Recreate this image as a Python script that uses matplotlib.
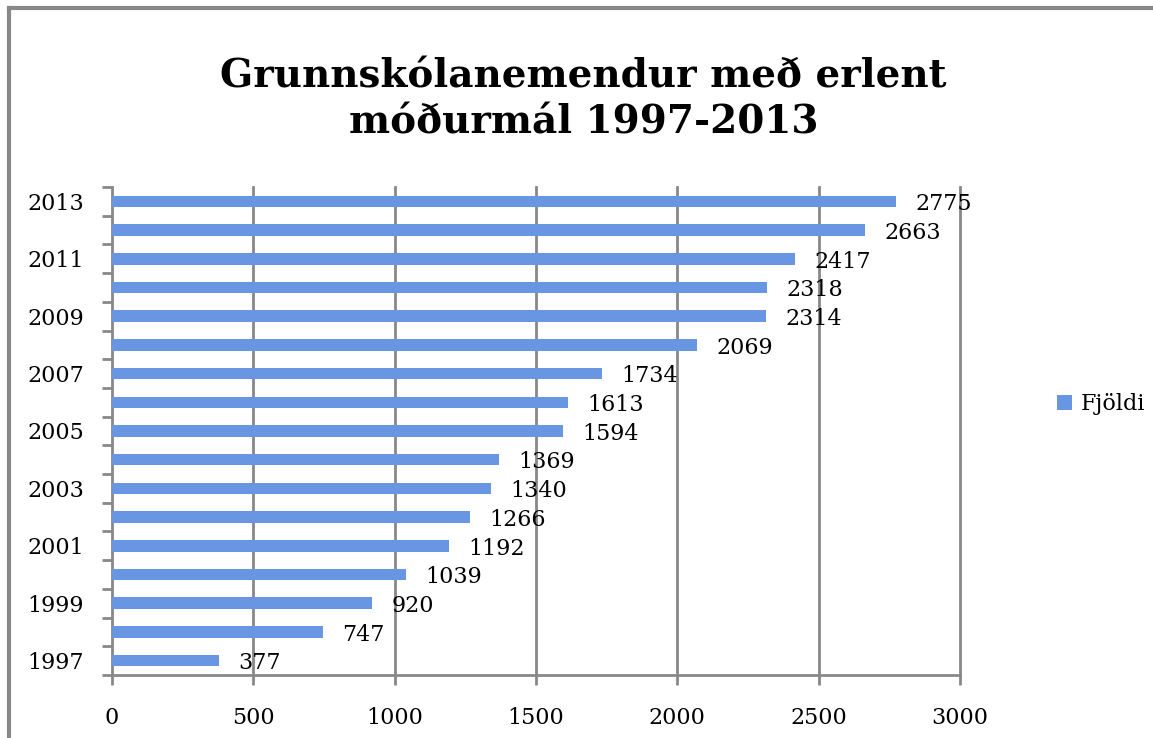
import numpy as np
import matplotlib.pyplot as plt
from matplotlib.lines import Line2D

years = list(range(1997, 2014))
counts = [377, 747, 920, 1039, 1192, 1266, 1340, 1369, 1594, 1613,
          1734, 2069, 2314, 2318, 2417, 2663, 2775]
x_ticks = [0, 500, 1000, 1500, 2000, 2500, 3000]
title = 'Grunnskólanemendur með erlent\nmóðurmál 1997-2013'
series_name = 'Fjöldi'

plt.rcParams['font.family'] = ['DejaVu Serif']

fig = plt.figure(figsize=(11.53, 7.38), dpi=100)
ax = fig.add_axes([0.0971, 0.0854, 0.7355, 0.6612])

pos = np.arange(len(years))
ax.barh(pos, counts, height=0.4, color='#6896e2', edgecolor='none',
        label=series_name, zorder=3)

for p, v in zip(pos, counts):
    ax.annotate(str(v), (v, p), xytext=(14, -2), textcoords='offset points',
                ha='left', va='center', fontsize=16, color='black', zorder=4)

ax.set_xlim(0, 3000)
ax.set_ylim(-0.5, len(years) - 0.5)
ax.set_xticks(x_ticks)
ax.set_xticklabels([str(t) for t in x_ticks], fontsize=16)
ax.tick_params(axis='x', direction='out', length=7, width=2, color='#888888', pad=16)

# year labels every other year, ticks at category boundaries
ax.set_yticks(pos[::2])
ax.set_yticklabels([str(y) for y in years[::2]], fontsize=16)
ax.set_yticks(np.arange(-0.5, len(years), 1.0), minor=True)
ax.tick_params(axis='y', which='major', length=0, pad=20)
ax.tick_params(axis='y', which='minor', direction='out', length=7, width=2, color='#888888')

# vertical grid lines, drawn unclipped so the last one is full width
for t in x_ticks[1:]:
    ax.axvline(t, color='#888888', linewidth=2, zorder=0, clip_on=False)
for side in ['top', 'right']:
    ax.spines[side].set_visible(False)
for side in ['left', 'bottom']:
    ax.spines[side].set_color('#888888')
    ax.spines[side].set_linewidth(2)

fig.text(0.506, 0.865, title, ha='center', va='center', fontsize=28,
         fontweight='bold', linespacing=1.25)

ax.legend(loc='center left', bbox_to_anchor=(0.917, 0.452),
          bbox_transform=fig.transFigure, frameon=False, fontsize=16,
          borderpad=0, borderaxespad=0,
          handlelength=0.65, handleheight=0.65, handletextpad=0.4)

# outer frame (top and left edges visible)
fig.add_artist(Line2D([0.0078, 1.0], [0.989, 0.989], transform=fig.transFigure,
                      color='#888888', linewidth=3))
fig.add_artist(Line2D([0.0078, 0.0078], [0.0, 0.989], transform=fig.transFigure,
                      color='#888888', linewidth=3))

fig.savefig('out.png', dpi=100)
